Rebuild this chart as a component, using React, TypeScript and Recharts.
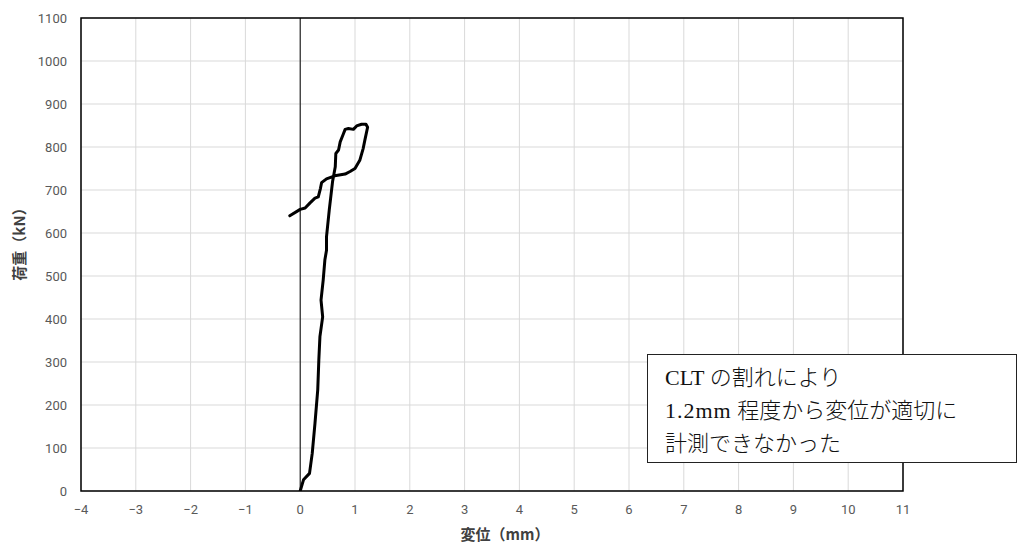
import React from 'react';
import { LineChart, Line, XAxis, YAxis, CartesianGrid, ReferenceLine, ReferenceArea } from 'recharts';

if (typeof document !== 'undefined') {
  document.body.style.margin = '0';
}

const displacement = [
  0, 0.06, 0.17, 0.22, 0.27, 0.32, 0.34, 0.36, 0.41, 0.38, 0.42, 0.45, 0.48, 0.48, 0.53, 0.59, 0.64, 0.65,
  0.70, 0.73, 0.78, 0.82, 0.88, 0.97, 1.03, 1.12, 1.20, 1.23, 1.18, 1.15, 1.09, 1.0, 0.91, 0.82, 0.63,
  0.48, 0.39, 0.37, 0.33, 0.27, 0.18, 0.09, 0, -0.19,
];
const load = [
  0, 26, 41, 88, 158, 235, 305, 359, 405, 444, 491, 537, 560, 591, 653, 719, 754, 785,
  793, 812, 828, 841, 843, 841, 849, 853, 853, 846, 816, 797, 770, 750, 743, 737, 733,
  726, 717, 704, 684, 681, 670, 658, 655, 640,
];
const xTicks = [-4, -3, -2, -1, 0, 1, 2, 3, 4, 5, 6, 7, 8, 9, 10, 11];
const yTicks = [0, 100, 200, 300, 400, 500, 600, 700, 800, 900, 1000, 1100];
const xTitle = '変位（mm）';
const yTitle = '荷重（kN）';

const data = displacement.map((x, i) => ({ x, y: load[i] }));

const tickStyle = { fontSize: 13, fill: '#595959', fontFamily: 'Roboto, "Noto Sans CJK JP", sans-serif' };
const titleFont = '"Noto Sans CJK JP", sans-serif';

const XTitle = (props: any) => {
  const vb = props.viewBox;
  return (
    <text x={vb.x + vb.width / 2 + 13} y={vb.y + 42} textAnchor="middle" dominantBaseline="central"
      fontSize={15} fontWeight={700} fill="#404040" fontFamily={titleFont}>{xTitle}</text>
  );
};
const YTitle = (props: any) => {
  const vb = props.viewBox;
  const cx = 18;
  const cy = vb.y + vb.height / 2 - 14;
  return (
    <text transform={`translate(${cx},${cy}) rotate(-90)`} textAnchor="middle" dominantBaseline="central"
      fontSize={15} fontWeight={700} fill="#404040" fontFamily={titleFont}>{yTitle}</text>
  );
};

const noteFont = '"Liberation Serif", "Noto Sans CJK JP", serif';

export default function App() {
  return (
    <div style={{ position: 'relative', width: 1018, height: 547 }}>
      <LineChart width={1018} height={547} data={data} margin={{ top: 18, right: 115, left: 8, bottom: 8 }}>
        <CartesianGrid stroke="#d9d9d9" strokeWidth={1} />
        <XAxis type="number" dataKey="x" domain={[-4, 11]} ticks={xTicks} allowDataOverflow
          tickLine={false} axisLine={false} tickSize={0} tickMargin={14} height={48}
          tick={tickStyle} tickFormatter={(v: number) => (v < 0 ? '\u2212' + Math.abs(v) : String(v))}
          label={<XTitle />} />
        <YAxis type="number" domain={[0, 1100]} ticks={yTicks} allowDataOverflow
          tickLine={false} axisLine={false} tickSize={0} tickMargin={14} width={73}
          tick={tickStyle} label={<YTitle />} />
        <ReferenceLine x={0} stroke="#000" strokeWidth={1} />
        <ReferenceArea x1={-4} x2={11} y1={0} y2={1100} fill="none" stroke="#000" strokeWidth={1.5} ifOverflow="visible" />
        <Line type="linear" dataKey="y" stroke="#000" strokeWidth={3} dot={false} isAnimationActive={false}
          strokeLinejoin="round" strokeLinecap="round" />
      </LineChart>
      <div style={{
        position: 'absolute', left: 647, top: 354, width: 368, height: 107,
        border: '1px solid #222', background: '#fff', boxSizing: 'content-box',
        fontFamily: noteFont, fontSize: 22, fontWeight: 300, color: '#111', lineHeight: '33px',
        whiteSpace: 'nowrap', overflow: 'hidden',
      }}>
        <div style={{ paddingLeft: 17, paddingTop: 6 }}>
          <div>CLT の割れにより</div>
          <div><span style={{ letterSpacing: 1 }}>1.2mm</span> 程度から変位が適切に</div>
          <div>計測できなかった</div>
        </div>
      </div>
    </div>
  );
}
